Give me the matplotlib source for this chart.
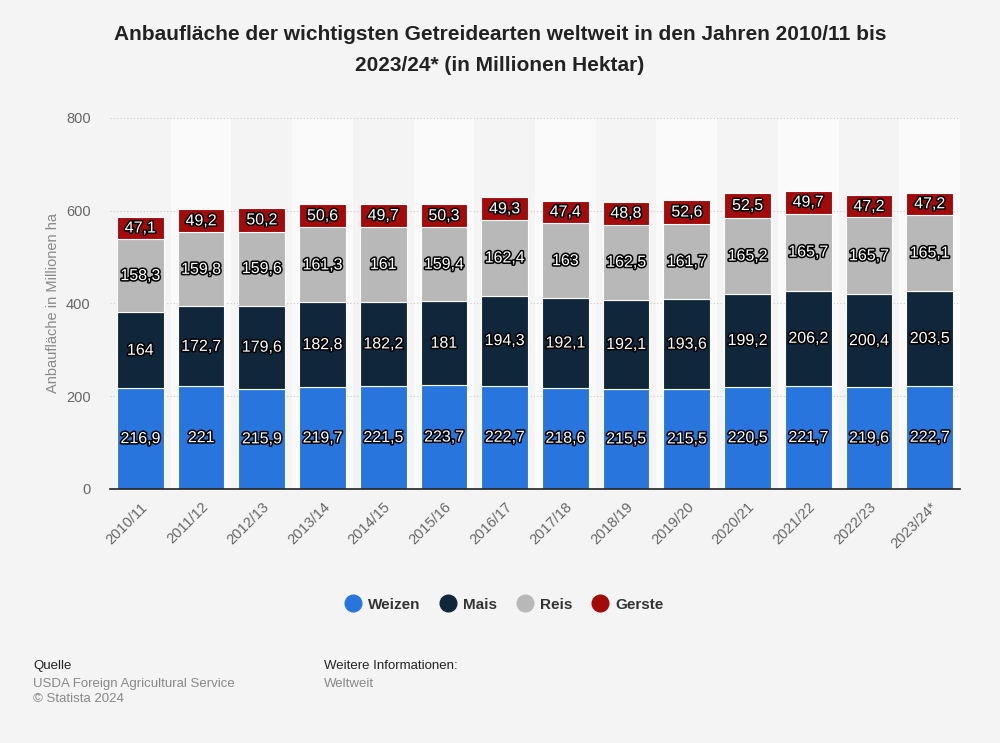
import numpy as np
import matplotlib.pyplot as plt
import matplotlib.patheffects as pe
from matplotlib.lines import Line2D

plt.rcParams['font.family'] = ['Liberation Sans', 'DejaVu Sans']

# data (millions of hectares)
years = ['2010/11', '2011/12', '2012/13', '2013/14', '2014/15', '2015/16', '2016/17',
         '2017/18', '2018/19', '2019/20', '2020/21', '2021/22', '2022/23', '2023/24*']
weizen = [216.9, 221, 215.9, 219.7, 221.5, 223.7, 222.7, 218.6, 215.5, 215.5, 220.5, 221.7, 219.6, 222.7]
mais = [164, 172.7, 179.6, 182.8, 182.2, 181, 194.3, 192.1, 192.1, 193.6, 199.2, 206.2, 200.4, 203.5]
reis = [158.3, 159.8, 159.6, 161.3, 161, 159.4, 162.4, 163, 162.5, 161.7, 165.2, 165.7, 165.7, 165.1]
gerste = [47.1, 49.2, 50.2, 50.6, 49.7, 50.3, 49.3, 47.4, 48.8, 52.6, 52.5, 49.7, 47.2, 47.2]

series = [('Weizen', weizen, '#2876dd'),
          ('Mais', mais, '#10263b'),
          ('Reis', reis, '#b8b8b8'),
          ('Gerste', gerste, '#a30a0a')]

bg = '#f4f4f4'
fig = plt.figure(figsize=(10, 7.43), dpi=100, facecolor=bg)
ax = fig.add_axes([0.11, 0.342, 0.85, 0.4992])
ax.set_facecolor(bg)

x = np.arange(len(years))

# lighter bands behind every other column
for i in x:
    if i % 2 == 1:
        ax.axvspan(i - 0.5, i + 0.5, color='#fafafa', zorder=0, lw=0)

ax.grid(axis='y', color='#c8c8c8', linestyle=(0, (1, 2)), linewidth=0.8, zorder=1)

def fmt(v):
    s = f'{v:.1f}'
    if s.endswith('.0'):
        s = s[:-2]
    return s.replace('.', ',')

outline = [pe.withStroke(linewidth=2.2, foreground='black')]
bottom = np.zeros(len(years))
for name, vals, col in series:
    vals = np.array(vals)
    ax.bar(x, vals, width=0.77, bottom=bottom, color=col, edgecolor='white',
           linewidth=0.8, zorder=3)
    for xi, b, v in zip(x, bottom, vals):
        ax.text(xi, b + v / 2, fmt(v), ha='center', va='center', color='white',
                fontsize=11.5, path_effects=outline, zorder=4)
    bottom += vals

ax.set_xlim(-0.5, len(years) - 0.5)
ax.set_ylim(0, 800)
ax.set_yticks([0, 200, 400, 600, 800])
ax.set_xticks(x)
ax.set_xticklabels(years, rotation=45, ha='right', rotation_mode='anchor')
ax.tick_params(axis='both', colors='#666666', labelsize=10.5, length=0)
ax.tick_params(axis='x', pad=8)
ax.tick_params(axis='y', pad=14)
for sp in ['top', 'right', 'left']:
    ax.spines[sp].set_visible(False)
ax.spines['bottom'].set_color('#222222')
ax.spines['bottom'].set_linewidth(1.2)
ax.spines['bottom'].set_zorder(5)
ax.set_ylabel('Anbaufläche in Millionen ha', color='#888888', fontsize=10.5)
ax.yaxis.set_label_coords(-0.059, 0.5)

fig.text(0.5, 0.966, 'Anbaufläche der wichtigsten Getreidearten weltweit in den Jahren 2010/11 bis\n2023/24* (in Millionen Hektar)',
         ha='center', va='top', fontsize=15, fontweight='bold', color='#222222', linespacing=1.75)

handles = [Line2D([0], [0], marker='o', linestyle='', markersize=12, markerfacecolor=c,
                  markeredgecolor=c, label=n) for n, _, c in series]
leg = fig.legend(handles=handles, loc='center', bbox_to_anchor=(0.502, 0.186), ncol=4, frameon=False,
                 fontsize=11, handletextpad=0.2, columnspacing=1.0, handlelength=1.6)
for t in leg.get_texts():
    t.set_fontweight('bold')
    t.set_color('#333333')

fig.text(0.033, 0.103, 'Quelle', fontsize=9.5, color='#222222', ha='left', va='center')
fig.text(0.033, 0.080, 'USDA Foreign Agricultural Service', fontsize=9.5, color='#888888', ha='left', va='center')
fig.text(0.033, 0.059, '© Statista 2024', fontsize=9.5, color='#888888', ha='left', va='center')
fig.text(0.324, 0.103, 'Weitere Informationen:', fontsize=9.5, color='#222222', ha='left', va='center')
fig.text(0.324, 0.080, 'Weltweit', fontsize=9.5, color='#888888', ha='left', va='center')

fig.savefig('out.png', dpi=100, facecolor=bg)
